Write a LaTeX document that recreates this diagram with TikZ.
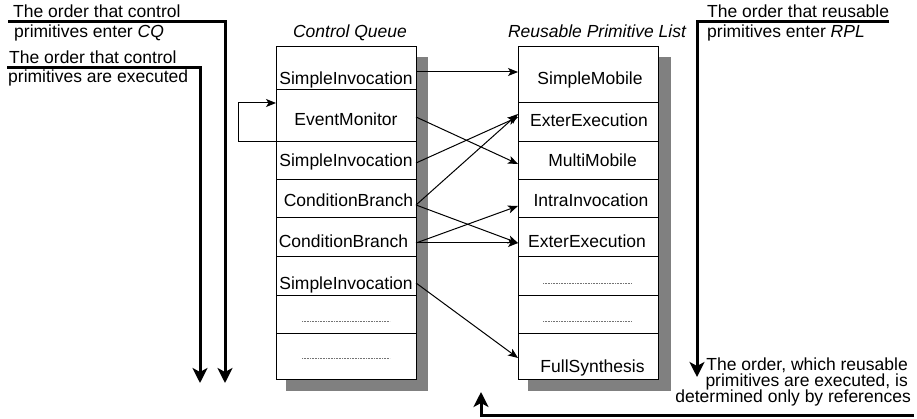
\documentclass[tikz,border=0pt]{standalone}
\usepackage{fontspec}
\setmainfont{Liberation Sans}
\usetikzlibrary{arrows.meta,calc}
\begin{document}
\begin{tikzpicture}[x=1pt,y=-1pt,
  cell/.style={draw,fill=white,line width=1pt,minimum width=140pt,inner sep=0pt,outer sep=0pt,anchor=north west},
  shadow/.style={fill=black!50,draw=none},
  lbl/.style={anchor=base,inner sep=0pt,font=\fontsize{17.5}{17}\selectfont},
  txt/.style={anchor=base west,inner sep=0pt,font=\fontsize{17.5}{17}\selectfont},
  arr/.style={line width=1pt,-{Stealth[length=10pt,width=8pt,inset=2.5pt]}},
  big/.style={line width=3pt,-{Stealth[length=15pt,width=15pt,inset=4pt]}},
  dots/.style={black!55,line width=0.8pt,dash pattern=on 0.8pt off 0.8pt}]
\useasboundingbox (0,0) rectangle (917,419);
% shadows
\fill[shadow] (286,57) rectangle (428,391);
\fill[shadow] (528,57) rectangle (671,391);
% Control Queue cells
\node[cell,minimum height=43pt] (c1) at (276,47) {};
\node[cell,minimum height=52pt] (c2) at (276,90) {};
\node[cell,minimum height=38pt] (c3) at (276,142) {};
\node[cell,minimum height=38pt] (c4) at (276,180) {};
\node[cell,minimum height=39pt] (c5) at (276,218) {};
\node[cell,minimum height=38pt] (c6) at (276,257) {};
\node[cell,minimum height=38pt] (c7) at (276,295) {};
\node[cell,minimum height=46pt] (c8) at (276,333) {};
% RPL cells
\node[cell,minimum height=56pt] (r1) at (518,47) {};
\node[cell,minimum height=39pt] (r2) at (518,103) {};
\node[cell,minimum height=38pt] (r3) at (518,142) {};
\node[cell,minimum height=38pt] (r4) at (518,180) {};
\node[cell,minimum height=39pt] (r5) at (518,218) {};
\node[cell,minimum height=38pt] (r6) at (518,257) {};
\node[cell,minimum height=38pt] (r7) at (518,295) {};
\node[cell,minimum height=46pt] (r8) at (518,333) {};
% titles
\node[lbl] (tcq) at (350,38) {\itshape Control Queue};
\node[lbl] (trpl) at (597,38) {\itshape Reusable Primitive List};
% CQ labels
\node[lbl] (lc1) at (346,85) {SimpleInvocation};
\node[lbl] (lc2) at (346,126) {EventMonitor};
\node[lbl] (lc3) at (346,167) {SimpleInvocation};
\node[lbl] (lc4) at (348.5,207) {ConditionBranch};
\node[lbl] (lc5) at (343.5,248) {ConditionBranch};
\node[lbl] (lc6) at (346,290) {SimpleInvocation};
\draw[dots] ($(c7.center)+(-44,7)$) -- ++(88,0);
\draw[dots] ($(c8.center)+(-44,2)$) -- ++(88,0);
% RPL labels
\node[lbl] (lr1) at (590,85) {SimpleMobile};
\node[lbl] (lr2) at (589,127) {ExterExecution};
\node[lbl] (lr3) at (592.5,167) {MultiMobile};
\node[lbl] (lr4) at (591,207) {IntraInvocation};
\node[lbl] (lr5) at (587,248) {ExterExecution};
\draw[dots] ($(r6.center)+(-45,7)$) -- ++(89,0);
\draw[dots] ($(r7.center)+(-45,7)$) -- ++(89,0);
\node[lbl] (lr8) at (592.5,372) {FullSynthesis};
% connectors
\draw[arr] ($(c1.north east)+(0,25)$) -- ($(r1.north west)+(0,25)$);
\draw[arr] ($(c2.north east)+(0,27)$) -- ($(r3.north west)+(0,22)$);
\draw[arr] ($(c3.north east)+(0,21)$) -- ($(r2.north west)+(0,14)$);
\draw[arr] ($(c4.north east)+(0,25)$) -- ($(r2.north west)+(0,11)$);
\draw[arr] ($(c4.north east)+(0,25)$) -- ($(r5.north west)+(0,25)$);
\draw[arr] ($(c5.north east)+(0,25)$) -- ($(r4.north west)+(0,26)$);
\draw[arr] ($(c5.north east)+(0,25)$) -- ($(r5.north west)+(0,25)$);
\draw[arr] ($(c6.north east)+(0,26)$) -- ($(r8.north west)+(0,25)$);
% loop
\draw[arr] (c2.south west) -- ++(-38,0) |- ($(c2.north west)+(0,13)$);
% left texts and order arrows
\node[txt] (t1a) at (13,18) {The order that control};
\node[txt] (t1b) at (14,38) {primitives enter \itshape CQ};
\node[txt] (t2a) at (9,64) {The order that control};
\node[txt] (t2b) at (8,83) {primitives are executed};
\coordinate (s1) at (8,22);
\coordinate (e1) at (225,383);
\coordinate (s2) at (7,68);
\coordinate (e2) at (200,383);
\draw[big] (s1) -| (e1);
\draw[big] (s2) -| (e2);
% right texts and arrows
\node[txt] (t3a) at (707,18) {The order that reusable};
\node[txt] (t3b) at (707,38) {primitives enter \itshape RPL};
\coordinate (s3) at (889,22);
\coordinate (e3) at (697,377);
\draw[big] (s3) -| (e3);
\node[anchor=base east,inner sep=0pt,font=\fontsize{17.5}{17}\selectfont] (b1) at (908,370) {The order, which reusable};
\node[anchor=base east,inner sep=0pt,font=\fontsize{17.5}{17}\selectfont] (b2) at (908,386) {primitives are executed, is};
\node[anchor=base east,inner sep=0pt,font=\fontsize{17.5}{17}\selectfont] (b3) at (911,402) {determined only by references};
\coordinate (s4) at (914,415);
\coordinate (e4) at (481,392);
\draw[big] (s4) -| (e4);
\end{tikzpicture}
\end{document}
